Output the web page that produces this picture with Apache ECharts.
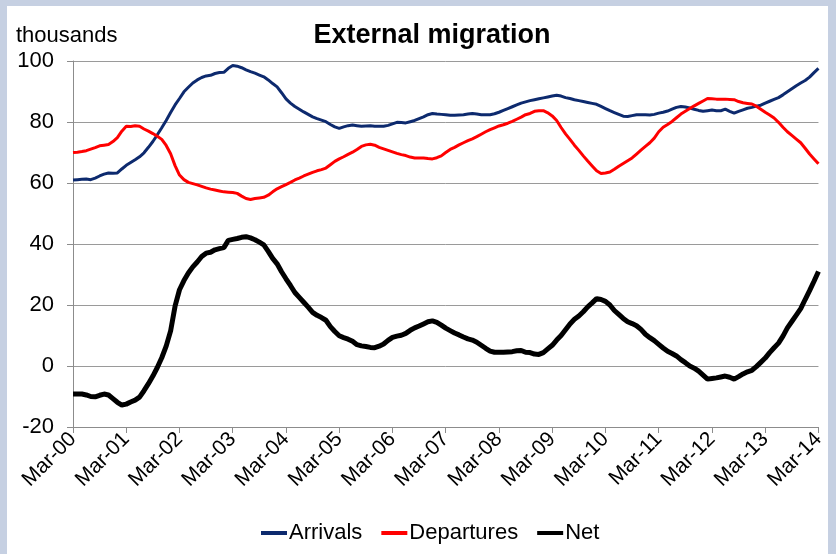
<!DOCTYPE html>
<html>
<head>
<meta charset="utf-8">
<script src="https://cdn.jsdelivr.net/npm/echarts@6/dist/echarts.min.js"></script>
<style>
  html, body { margin: 0; padding: 0; background: #c6d0e2; width: 836px; height: 554px; overflow: hidden; }
  #main { position: absolute; left: 7px; top: 6px; width: 821px; height: 548px; background: #fff; }
</style>
</head>
<body>
<div id="main"></div>
<script>
// monthly, Mar-00 .. Mar-14
var monthNames = ['Mar', 'Apr', 'May', 'Jun', 'Jul', 'Aug', 'Sep', 'Oct', 'Nov', 'Dec', 'Jan', 'Feb'];
var startYear = 2000;
var nMonths = 169;

var arrivals = [
  61.0, 61.1, 61.2, 61.3, 61.1, 61.6, 62.3, 62.9, 63.3, 63.2, 63.3, 64.6,
  65.8, 66.7, 67.6, 68.6, 69.9, 71.7, 73.6, 75.8, 78.1, 80.5, 83.1, 85.6,
  87.7, 89.9, 91.4, 92.8, 93.8, 94.6, 95.1, 95.3, 95.9, 96.2, 96.3, 97.6,
  98.5, 98.3, 97.8, 97.1, 96.5, 96.0, 95.4, 94.8, 93.8, 92.6, 91.5, 89.6,
  87.6, 86.2, 85.1, 84.2, 83.3, 82.5, 81.7, 81.1, 80.6, 80.1, 79.2, 78.4,
  77.9, 78.4, 78.8, 79.0, 78.8, 78.6, 78.7, 78.8, 78.6, 78.6, 78.6, 78.9,
  79.4, 79.9, 79.8, 79.7, 80.1, 80.5, 81.1, 81.7, 82.4, 82.8, 82.6, 82.5,
  82.4, 82.2, 82.2, 82.3, 82.4, 82.6, 82.8, 82.6, 82.4, 82.4, 82.4, 82.7,
  83.2, 83.8, 84.4, 85.0, 85.6, 86.2, 86.6, 87.0, 87.3, 87.6, 87.9, 88.2,
  88.5, 88.8, 88.5, 88.0, 87.7, 87.3, 87.0, 86.7, 86.4, 86.1, 85.8, 85.1,
  84.4, 83.7, 83.1, 82.5, 81.9, 81.8, 82.1, 82.4, 82.4, 82.4, 82.3, 82.5,
  82.9, 83.2, 83.6, 84.2, 84.8, 85.1, 84.9, 84.6, 84.2, 83.8, 83.5, 83.7,
  83.9, 83.7, 83.7, 84.2, 83.5, 82.9, 83.5, 84.0, 84.5, 84.8, 85.2, 85.5,
  86.2, 86.8, 87.4, 88.0, 88.9, 89.9, 90.9, 91.9, 92.8, 93.6, 94.7, 96.2,
  97.6
];

var departures = [
  70.0, 70.1, 70.3, 70.6, 71.1, 71.6, 72.2, 72.4, 72.6, 73.6, 74.9, 77.0,
  78.6, 78.5, 78.8, 78.6, 77.7, 77.0, 76.2, 75.3, 74.3, 72.3, 69.6, 65.7,
  62.6, 61.1, 60.2, 59.8, 59.4, 58.9, 58.4, 58.0, 57.7, 57.4, 57.1, 57.0,
  56.9, 56.6, 55.7, 54.9, 54.6, 54.9, 55.1, 55.3, 56.0, 57.1, 58.1, 58.8,
  59.5, 60.2, 61.0, 61.6, 62.3, 62.9, 63.5, 64.0, 64.4, 64.9, 66.0, 67.1,
  67.9, 68.6, 69.4, 70.1, 71.0, 72.0, 72.5, 72.7, 72.4, 71.7, 71.2, 70.7,
  70.2, 69.7, 69.3, 69.0, 68.5, 68.2, 68.2, 68.2, 68.0, 67.9, 68.3, 68.9,
  70.0, 71.0, 71.7, 72.5, 73.2, 73.9, 74.5, 75.2, 76.0, 76.8, 77.5, 78.1,
  78.7, 79.1, 79.6, 80.2, 80.9, 81.6, 82.4, 82.8, 83.5, 83.7, 83.7, 83.0,
  82.0, 80.5, 78.2, 76.1, 74.3, 72.4, 70.7, 68.9, 67.2, 65.6, 64.0, 63.1,
  63.3, 63.6, 64.5, 65.5, 66.4, 67.3, 68.2, 69.5, 70.8, 72.0, 73.2, 74.7,
  76.8, 78.3, 79.2, 80.2, 81.4, 82.6, 83.5, 84.4, 85.3, 86.1, 86.9, 87.7,
  87.6, 87.5, 87.5, 87.5, 87.4, 87.3, 86.7, 86.3, 86.1, 85.9, 85.2, 84.2,
  83.2, 82.3, 81.3, 79.9, 78.3, 76.8, 75.6, 74.4, 73.2, 71.4, 69.5, 67.9,
  66.3
];

var net = [
  -9.2, -9.2, -9.2, -9.5, -10.0, -10.1, -9.6, -9.2, -9.5, -10.7, -11.9, -12.8,
  -12.5, -11.8, -11.2, -10.2, -8.1, -5.8, -3.3, -0.5, 2.7, 6.5, 11.5, 19.6,
  25.0, 28.0, 30.5, 32.5, 34.1, 35.9, 37.0, 37.3, 38.1, 38.5, 38.8, 41.2,
  41.5, 41.8, 42.2, 42.4, 42.0, 41.4, 40.6, 39.7, 37.6, 35.3, 33.5, 30.9,
  28.6, 26.4, 24.1, 22.5, 20.9, 19.3, 17.6, 16.6, 15.9, 15.0, 12.9, 11.3,
  9.9, 9.3, 8.8, 8.1, 7.0, 6.6, 6.4, 6.1, 6.0, 6.5, 7.2, 8.4,
  9.4, 9.8, 10.1, 10.7, 11.7, 12.5, 13.1, 13.8, 14.5, 14.8, 14.3, 13.4,
  12.4, 11.6, 10.8, 10.2, 9.5, 8.9, 8.5, 7.8, 6.8, 5.8, 4.9, 4.5,
  4.5, 4.5, 4.6, 4.7, 5.0, 5.1, 4.5, 4.4, 3.9, 3.8, 4.4, 5.6,
  6.8, 8.5, 10.0, 11.9, 13.8, 15.3, 16.4, 17.8, 19.4, 20.7, 22.1, 21.8,
  21.2, 20.0, 18.2, 16.9, 15.6, 14.5, 13.9, 13.2, 12.0, 10.4, 9.3, 8.3,
  7.1, 5.9, 4.8, 4.1, 3.3, 2.1, 1.1, 0.0, -0.7, -1.7, -3.0, -4.3,
  -4.1, -3.9, -3.6, -3.3, -3.7, -4.3, -3.5, -2.6, -1.9, -1.4, -0.2, 1.2,
  2.6, 4.4, 6.0, 7.5, 9.8, 12.5, 14.6, 16.7, 18.8, 21.8, 24.7, 27.8,
  31.0
];

var categories = [];
for (var i = 0; i < nMonths; i++) {
  var yr = startYear + Math.floor((i + 2) / 12);
  categories.push(monthNames[i % 12] + '-' + String(yr % 100).padStart(2, '0'));
}

var font = 'Liberation Sans, Arial, sans-serif';

var option = {
  animation: false,
  textStyle: { fontFamily: font },
  title: {
    text: 'External migration',
    left: 420,
    textAlign: 'center',
    top: 11,
    textStyle: { fontSize: 27, fontWeight: 'bold', color: '#000', fontFamily: font }
  },
  graphic: [{
    type: 'text',
    left: 9,
    top: 19,
    style: { text: 'thousands', fontSize: 22, fill: '#000', fontFamily: font }
  }],
  legend: {
    bottom: 5,
    left: 249,
    itemWidth: 26,
    itemHeight: 4,
    itemGap: 19,
    icon: 'rect',
    textStyle: { fontSize: 22, color: '#000', fontFamily: font, padding: [0, 0, 0, -3] },
    data: ['Arrivals', 'Departures', 'Net']
  },
  grid: { left: 66, top: 55, right: 8, bottom: 127 },
  xAxis: {
    type: 'category',
    data: categories,
    boundaryGap: false,
    axisLine: { onZero: false, lineStyle: { color: '#8c8c8c', width: 1 } },
    axisTick: { show: true, interval: 11, length: 6, lineStyle: { color: '#8c8c8c' } },
    axisLabel: { interval: 11, rotate: 45, fontSize: 21, color: '#000', margin: 9, fontFamily: font },
    splitLine: { show: false }
  },
  yAxis: {
    type: 'value',
    min: -20,
    max: 100,
    interval: 20,
    axisLine: { show: true, lineStyle: { color: '#8c8c8c', width: 1 } },
    axisTick: { show: true, length: 6, lineStyle: { color: '#8c8c8c' } },
    axisLabel: { fontSize: 22, color: '#000', margin: 19, fontFamily: font },
    splitLine: { lineStyle: { color: '#9a9a9a', width: 1 } }
  },
  series: [
    {
      name: 'Arrivals', type: 'line', data: arrivals, showSymbol: false, symbol: 'none',
      lineStyle: { color: '#0d2a6e', width: 3 }, itemStyle: { color: '#0d2a6e' }
    },
    {
      name: 'Departures', type: 'line', data: departures, showSymbol: false, symbol: 'none',
      lineStyle: { color: '#ff0000', width: 3 }, itemStyle: { color: '#ff0000' }
    },
    {
      name: 'Net', type: 'line', data: net, showSymbol: false, symbol: 'none',
      lineStyle: { color: '#000000', width: 5 }, itemStyle: { color: '#000000' }
    }
  ]
};

var chartDom = document.getElementById('main');
var myChart = echarts.init(chartDom);
option && myChart.setOption(option);
</script>
</body>
</html>
